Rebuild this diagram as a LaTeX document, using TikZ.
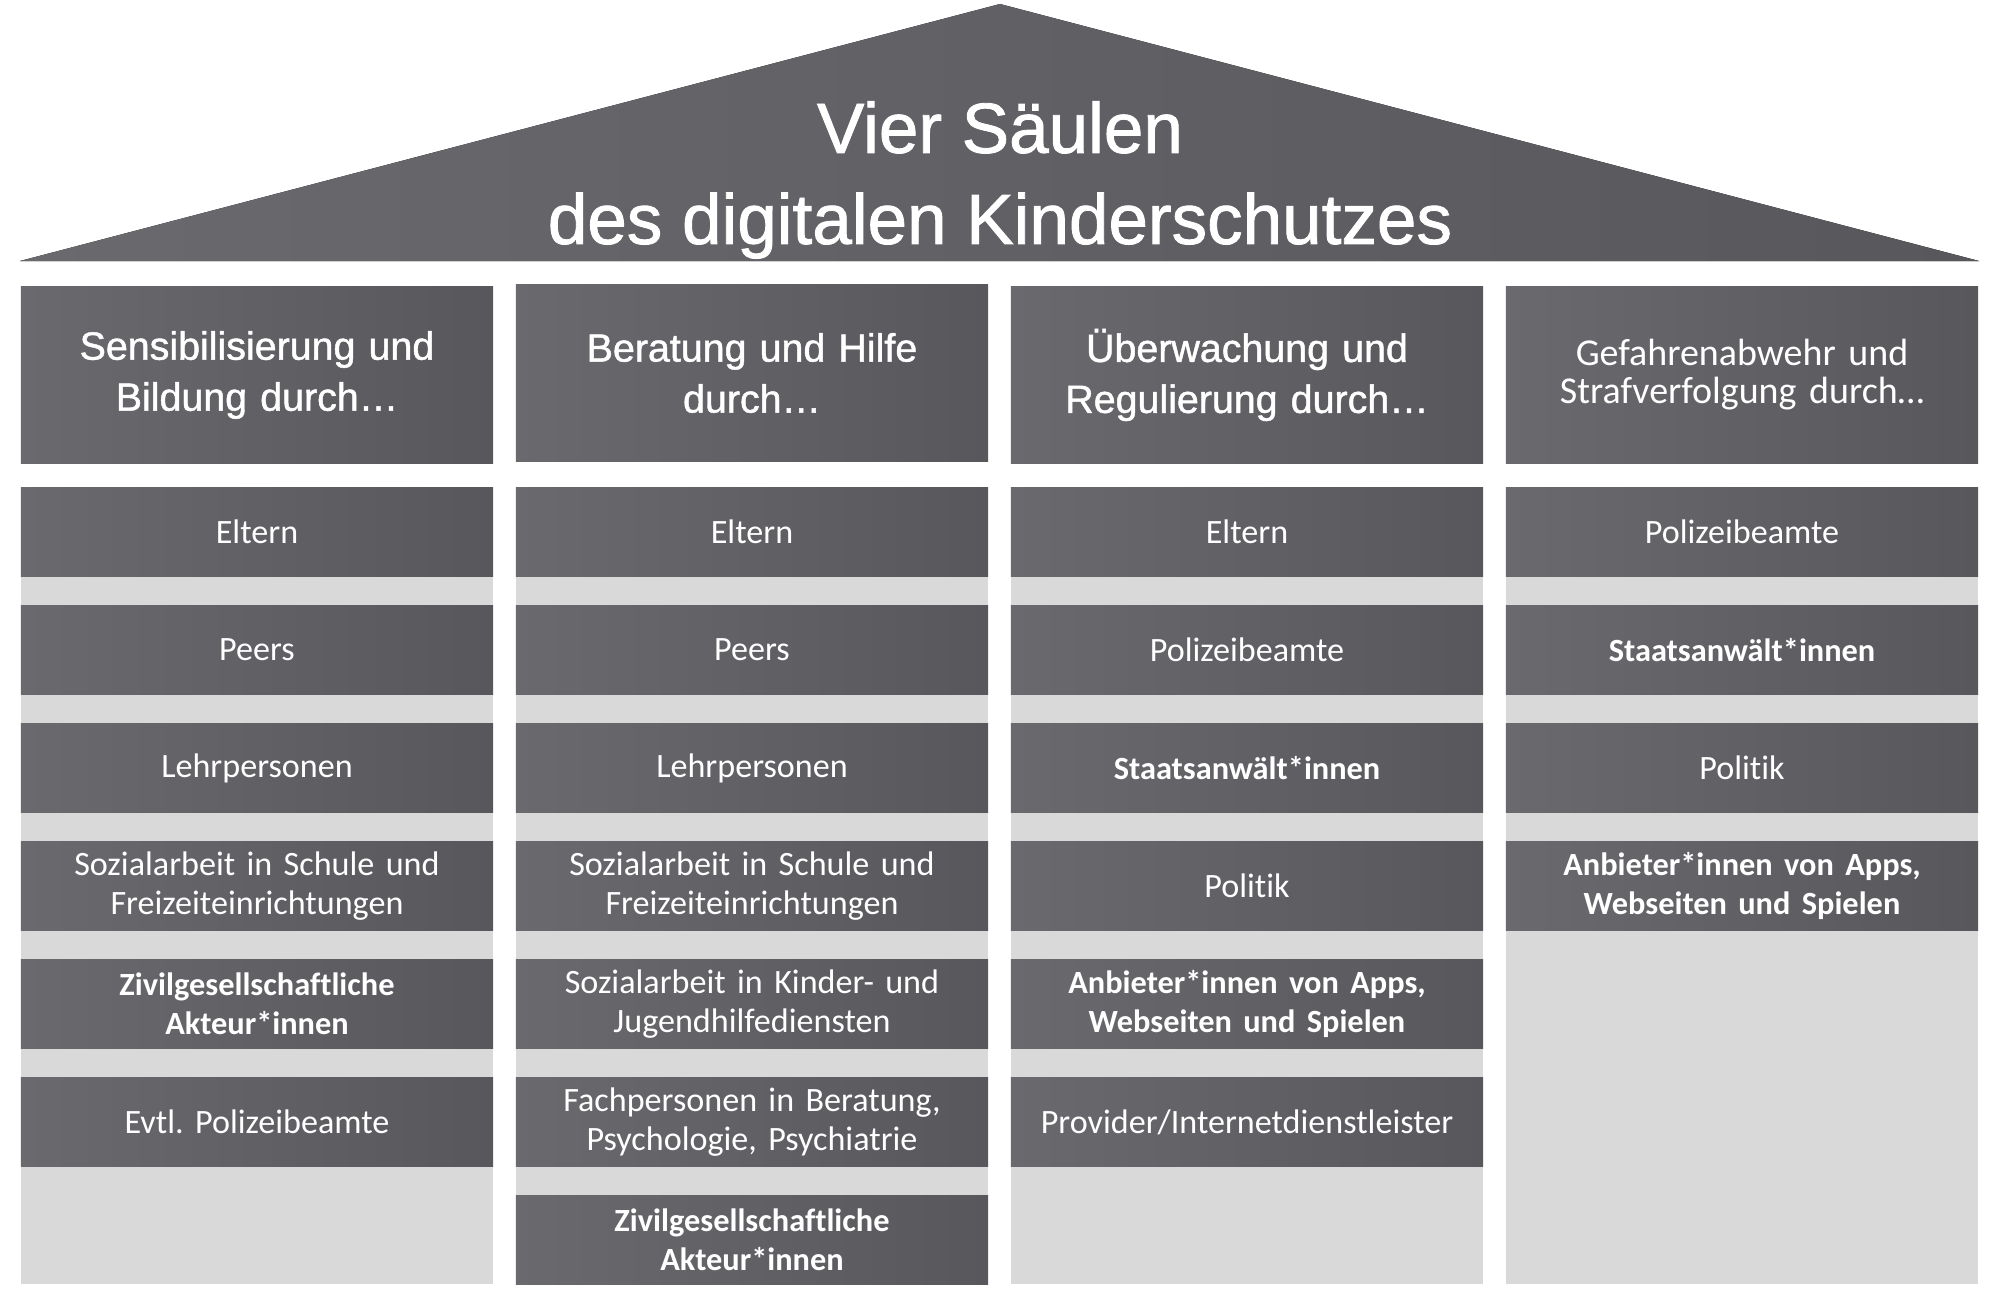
\documentclass[tikz,border=0pt]{standalone}
\usepackage{fontspec}
\setmainfont{Carlito}[Ligatures=NoCommon]
\newfontfamily\headfont{Liberation Sans}[FakeBold=1.2]
\newcommand{\bolditem}{\fontsize{9.2}{11.2}\selectfont\bfseries}
\frenchspacing

\definecolor{pillarlight}{RGB}{106,105,110}
\definecolor{pillardark}{RGB}{88,87,92}
\definecolor{pillarback}{RGB}{217,217,217}

\begin{document}
\begin{tikzpicture} [x=0.01cm, y=-0.01cm,
  pillar/.style={left color=pillarlight, right color=pillardark, text=white,
    inner sep=0pt, align=center, minimum width=4.72cm, text width=4.6cm},
  headbox/.style={pillar, minimum height=1.77cm, font=\headfont\fontsize{11.2}{14.5}\selectfont},
  itembox/.style={pillar, minimum height=0.88cm, font=\fontsize{9.7}{11.2}\selectfont}]

\useasboundingbox (0,0) rectangle (2000,1300);

\fill[left color=pillarlight, right color=pillardark] (20,261) -- (1000,4) -- (1979,261) -- cycle;
\node[text=white, align=center, font=\headfont\fontsize{20.2}{25.9}\selectfont] (title) at (1000,180)
  {Vier Säulen\\des digitalen Kinderschutzes};

\foreach \x in {257,752,1247,1742} {
 \fill[pillarback] (\x-236,488) rectangle (\x+236,1284);
};

\node[headbox] (head1) at (257,375) {Sensibilisierung und\\Bildung durch…};
\node[headbox] (head2) at (752,373) {Beratung und Hilfe\\durch…};
\node[headbox] (head3) at (1247,375) {Überwachung und\\Regulierung durch…};
\node[headbox, font=\fontsize{10.8}{10.8}\selectfont] (head4) at (1742,375) {Gefahrenabwehr und\\Strafverfolgung durch…};

\foreach \txt [count=\i] in {Eltern, Peers, Lehrpersonen,
  {Sozialarbeit in Schule und\\Freizeiteinrichtungen},
  {\bolditem Zivilgesellschaftliche\\Akteur*innen}, Evtl. Polizeibeamte} {
 \node[itembox] (sens\i) at (257,{532+118*(\i-1)}) {\txt};
};
\foreach \txt [count=\i] in {Eltern, Peers, Lehrpersonen,
  {Sozialarbeit in Schule und\\Freizeiteinrichtungen},
  {Sozialarbeit in Kinder- und\\Jugendhilfediensten},
  {Fachpersonen in Beratung,\\Psychologie, Psychiatrie},
  {\bolditem Zivilgesellschaftliche\\Akteur*innen}} {
 \node[itembox] (hilfe\i) at (752,{532+118*(\i-1)}) {\txt};
};
\foreach \txt [count=\i] in {Eltern, Polizeibeamte, \bolditem Staatsanwält*innen, Politik,
  {\bolditem Anbieter*innen von Apps,\\Webseiten und Spielen},
  Provider/Internetdienstleister} {
 \node[itembox] (regul\i) at (1247,{532+118*(\i-1)}) {\txt};
};
\foreach \txt [count=\i] in {Polizeibeamte, \bolditem Staatsanwält*innen, Politik,
  {\bolditem Anbieter*innen von Apps,\\Webseiten und Spielen}} {
 \node[itembox] (abwehr\i) at (1742,{532+118*(\i-1)}) {\txt};
};

\end{tikzpicture}
\end{document}
